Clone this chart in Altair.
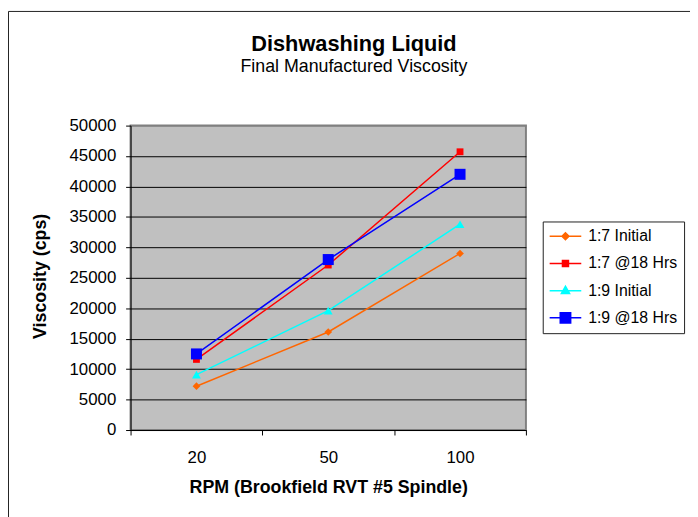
import altair as alt
import pandas as pd

# ---- data ----
rpm = ["20", "50", "100"]
series = ["1:7 Initial", "1:7 @18 Hrs", "1:9 Initial", "1:9 @18 Hrs"]
v_17_initial = [7200, 16100, 29000]
v_17_18hrs = [11600, 27100, 45700]
v_19_initial = [9100, 19600, 33800]
v_19_18hrs = [12500, 28000, 42000]
y_ticks = [0, 5000, 10000, 15000, 20000, 25000, 30000, 35000, 40000, 45000, 50000]

# ---- styles ----
colors = ["#FF6600", "#FF0000", "#00FFFF", "#0000FF"]
shapes = ["diamond", "square", "triangle-up", "square"]
sizes = [60, 48, 80, 124]
legend_paths = [
    "M-1,0H1M-0.22,0L0,-0.22L0.22,0L0,0.22Z",
    "M-1,0H1M-0.19,-0.19H0.19V0.19H-0.19Z",
    "M-1,0H1M-0.26,0.18L0,-0.28L0.26,0.18Z",
    "M-1,0H1M-0.33,-0.33H0.33V0.33H-0.33Z",
]
FONT = "Liberation Sans"

all_values = [v_17_initial, v_17_18hrs, v_19_initial, v_19_18hrs]
rows = []
for s, vals in zip(series, all_values):
    for r, v in zip(rpm, vals):
        rows.append({"rpm": r, "series": s, "viscosity": v})
df = pd.DataFrame(rows)

x_enc = alt.X(
    "rpm:N",
    sort=rpm,
    scale=alt.Scale(type="band", paddingInner=0, paddingOuter=0),
    axis=alt.Axis(
        title="RPM (Brookfield RVT #5 Spindle)",
        labelAngle=0,
        tickBand="extent",
        labelFont=FONT,
        labelFontSize=17,
        labelColor="black",
        labelBaseline="alphabetic",
        labelPadding=28,
        tickSize=5,
        tickColor="black",
        domainColor="black",
        gridColor="black",
        gridOpacity=1,
        gridWidth=1,
        titleFont=FONT,
        titleFontSize=18,
        titleFontWeight="bold",
        titleColor="black",
        titleBaseline="alphabetic",
        titleAlign="center",
        titleX=200,
        titleY=63,
    ),
)

y_enc = alt.Y(
    "viscosity:Q",
    scale=alt.Scale(domain=[0, 50000], nice=False),
    axis=alt.Axis(
        values=y_ticks,
        format="d",
        title="Viscosity (cps)",
        labelFont=FONT,
        labelFontSize=17,
        labelColor="black",
        labelPadding=10,
        tickSize=5,
        tickColor="black",
        domainColor="black",
        gridColor=alt.condition("datum.value == 50000", alt.value("#808080"), alt.value("black")),
        gridOpacity=1,
        gridWidth=1,
        titleFont=FONT,
        titleFontSize=18,
        titleFontWeight="bold",
        titleColor="black",
        titleAngle=270,
        titleAlign="center",
        titleBaseline="alphabetic",
        titleX=-86,
        titleY=152,
    ),
)

frame = alt.Chart(alt.Data(values=[{"f": 1}])).mark_rect(
    filled=False, stroke="#202020", strokeWidth=1
).encode(
    x=alt.value(-123.5), x2=alt.value(700), y=alt.value(-115.5), y2=alt.value(700)
)

lines = [
    alt.Chart(df)
    .transform_filter(alt.datum.series == s)
    .mark_line(color=c, strokeWidth=1.5)
    .encode(x=x_enc, y=y_enc)
    for s, c in zip(series, colors)
]

points = [
    alt.Chart(df)
    .transform_filter(alt.datum.series == s)
    .mark_point(shape=sh, size=sz, filled=True, color=c, opacity=1)
    .encode(x=x_enc, y=y_enc)
    for s, c, sh, sz in zip(series, colors, shapes, sizes)
]

leg = alt.Legend(
    title=None,
    orient="none",
    legendX=417,
    legendY=97,
    strokeColor="#202020",
    fillColor="white",
    padding=6,
    clipHeight=18,
    rowPadding=9.5,
    symbolSize=1024,
    symbolStrokeWidth=1.5,
    symbolOpacity=1,
    labelFont=FONT,
    labelFontSize=16,
    labelColor="black",
    labelOffset=6,
)

legend_layer = (
    alt.Chart(df)
    .transform_filter("datum.viscosity < 0")
    .mark_point(opacity=1)
    .encode(
        x=x_enc,
        y=y_enc,
        fill=alt.Fill("series:N", scale=alt.Scale(domain=series, range=colors), legend=leg),
        stroke=alt.Stroke("series:N", scale=alt.Scale(domain=series, range=colors), legend=leg),
        shape=alt.Shape("series:N", scale=alt.Scale(domain=series, range=legend_paths), legend=leg),
    )
)

chart = (
    alt.layer(frame, *lines, *points, legend_layer)
    .properties(
        width=400,
        height=308,
        autosize=alt.AutoSizeParams(type="none"),
        padding={"left": 124, "top": 116, "right": 166, "bottom": 85},
        background="white",
        title=alt.TitleParams(
            text="Dishwashing Liquid",
            subtitle="Final Manufactured Viscosity",
            font=FONT,
            fontSize=22,
            fontWeight="bold",
            color="black",
            subtitleFont=FONT,
            subtitleFontSize=18,
            subtitleColor="black",
            subtitlePadding=2,
            anchor="middle",
            frame="group",
            dx=26,
            offset=-67,
        ),
    )
    .configure_view(fill="#C0C0C0", stroke="#808080", strokeWidth=2)
)

chart.save("out.html", embed_options={"renderer": "svg", "actions": False})
